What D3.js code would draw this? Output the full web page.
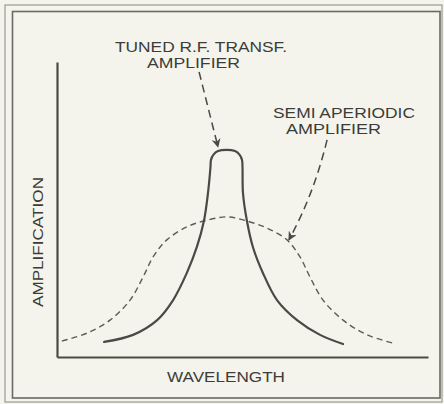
<!DOCTYPE html>
<html>
<head>
<meta charset="utf-8">
<script src="https://cdn.jsdelivr.net/npm/d3@7"></script>
<style>
  html, body { margin: 0; padding: 0; background: #f4f4ec; }
  svg { display: block; }
  text { font-family: "Liberation Sans", Arial, sans-serif; fill: #3c3c38; }
</style>
</head>
<body>
<svg id="chart" width="444" height="404"></svg>
<script>
// Relative wavelength (x) and relative amplification (y), 0–100 scale.
const tunedX = [12.7, 20.5, 27.0, 31.3, 35.0, 37.7, 39.6, 40.7, 41.37, 41.5, 42.18, 43.4, 45.69, 47.98, 49.19, 49.87, 50.0, 50.13, 51.2, 52.8, 55.5, 59.3, 64.7, 70.9, 77.1];
const tunedY = [5.1, 7.5, 12.5, 19.3, 28.5, 37.3, 46.1, 55.6, 64.4, 66.8, 68.6, 69.8, 70.2, 69.8, 68.6, 66.8, 64.4, 55.6, 46.1, 37.3, 28.5, 19.3, 12.5, 7.5, 4.4];

const semiX = [1.3, 8.1, 14.3, 19.7, 23.2, 25.9, 29.6, 35.0, 39.6, 45.8, 51.2, 56.6, 62.0, 65.5, 68.2, 71.7, 77.1, 83.6, 90.6];
const semiY = [5.4, 8.1, 12.5, 19.3, 27.1, 33.9, 39.7, 44.1, 46.1, 47.5, 46.1, 43.7, 39.7, 33.9, 27.1, 19.3, 12.5, 7.5, 4.7];

const axisLabels = ["WAVELENGTH", "AMPLIFICATION"];
const tunedLabel = ["TUNED R.F. TRANSF.", "AMPLIFIER"];
const semiLabel = ["SEMI APERIODIC", "AMPLIFIER"];

// Pointer arrows (start, [control], end) in chart units
const tunedArrow = [[38.3, 96.6], [43.4, 71.2]];
const semiArrow = [[72.8, 73.6], [69.2, 55.0], [62.5, 39.7]];

const svg = d3.select("#chart");
const ink = "#4a4a44";

// double frame
svg.append("rect").attr("x", 5).attr("y", 5).attr("width", 437).attr("height", 397)
  .attr("fill", "none").attr("stroke", "#9a9a92").attr("stroke-width", 1.2);
svg.append("rect").attr("x", 12.5).attr("y", 11.5).attr("width", 427.5).attr("height", 386.5)
  .attr("fill", "none").attr("stroke", "#6a6a64").attr("stroke-width", 1.6);

const x = d3.scaleLinear().domain([0, 100]).range([57, 428]);
const y = d3.scaleLinear().domain([0, 100]).range([357, 62]);

// axes as bare lines (no ticks)
const xAxis = d3.axisBottom(x).ticks(0).tickSizeOuter(0);
const yAxis = d3.axisLeft(y).ticks(0).tickSizeOuter(0);
svg.append("g").attr("transform", `translate(0,${y(0)})`).call(xAxis)
  .call(g => g.select(".domain").attr("stroke", ink).attr("stroke-width", 2.2));
svg.append("g").attr("transform", `translate(${x(0)},0)`).call(yAxis)
  .call(g => g.select(".domain").attr("stroke", ink).attr("stroke-width", 2.2));

const line = d3.line().x(d => x(d[0])).y(d => y(d[1])).curve(d3.curveCatmullRom.alpha(0.5));

// semi-aperiodic response (dashed)
svg.append("path").datum(d3.zip(semiX, semiY)).attr("d", line)
  .attr("fill", "none").attr("stroke", "#5c5c56").attr("stroke-width", 1.4)
  .attr("stroke-dasharray", "6,4");

// tuned R.F. transformer response (solid)
svg.append("path").datum(d3.zip(tunedX, tunedY)).attr("d", line)
  .attr("fill", "none").attr("stroke", "#4a4a44").attr("stroke-width", 2.2)
  .attr("stroke-linecap", "round");

// arrowhead
const defs = svg.append("defs");
defs.append("marker").attr("id", "head").attr("viewBox", "0 0 10 10")
  .attr("refX", 9).attr("refY", 5).attr("markerWidth", 9).attr("markerHeight", 9)
  .attr("markerUnits", "userSpaceOnUse").attr("orient", "auto")
  .append("path").attr("d", "M0,0 L10,5 L0,10 L3,5 Z").attr("fill", ink);

svg.append("path")
  .attr("d", d3.line().x(d => x(d[0])).y(d => y(d[1]))(tunedArrow))
  .attr("fill", "none").attr("stroke", ink).attr("stroke-width", 1.5)
  .attr("stroke-dasharray", "8,5").attr("marker-end", "url(#head)");

const sa = semiArrow.map(d => [x(d[0]), y(d[1])]);
svg.append("path")
  .attr("d", `M${sa[0][0]},${sa[0][1]} Q${sa[1][0]},${sa[1][1]} ${sa[2][0]},${sa[2][1]}`)
  .attr("fill", "none").attr("stroke", ink).attr("stroke-width", 1.5)
  .attr("stroke-dasharray", "8,5").attr("marker-end", "url(#head)");

// labels
function label(txt, cx, by, len) {
  svg.append("text").attr("x", cx).attr("y", by).attr("text-anchor", "middle")
    .attr("font-size", 15).attr("textLength", len).attr("lengthAdjust", "spacingAndGlyphs")
    .text(txt);
}
label(tunedLabel[0], 201, 52, 172);
label(tunedLabel[1], 193.5, 68, 93);
label(semiLabel[0], 344, 118, 142);
label(semiLabel[1], 333.5, 134, 95);
label(axisLabels[0], 226, 382, 118);

svg.append("text").attr("transform", "translate(43,242) rotate(-90)")
  .attr("text-anchor", "middle").attr("font-size", 15)
  .attr("textLength", 130).attr("lengthAdjust", "spacingAndGlyphs")
  .text(axisLabels[1]);
</script>
</body>
</html>
